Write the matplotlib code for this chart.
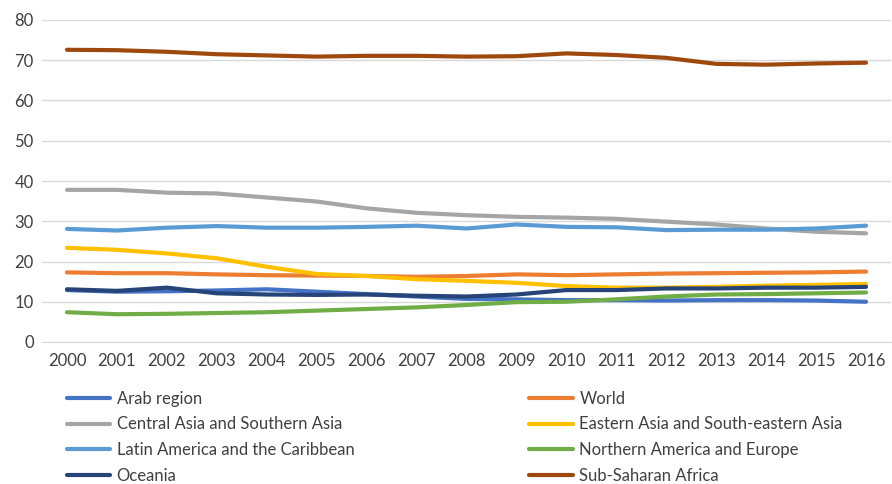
import matplotlib
matplotlib.use("Agg")
import matplotlib.pyplot as plt
import numpy as np

years = [str(y) for y in range(2000, 2017)]

arab = [12.9, 12.5, 12.6, 12.8, 13.1, 12.5, 11.9, 11.3, 10.7, 10.6, 10.4, 10.4, 10.3, 10.4, 10.4, 10.3, 10.0]
world = [17.3, 17.1, 17.1, 16.8, 16.6, 16.5, 16.4, 16.2, 16.4, 16.8, 16.6, 16.8, 17.0, 17.1, 17.2, 17.3, 17.5]
central_south_asia = [37.8, 37.8, 37.1, 36.9, 35.9, 34.9, 33.2, 32.1, 31.5, 31.1, 30.9, 30.6, 29.9, 29.2, 28.2, 27.4, 27.0]
east_se_asia = [23.4, 22.9, 22.0, 20.8, 18.7, 16.9, 16.4, 15.6, 15.2, 14.7, 13.9, 13.5, 13.5, 13.7, 14.0, 14.2, 14.4]
latin_america = [28.1, 27.7, 28.4, 28.8, 28.4, 28.4, 28.6, 28.9, 28.2, 29.2, 28.6, 28.5, 27.8, 27.9, 27.9, 28.2, 28.9]
north_america_europe = [7.4, 6.9, 7.0, 7.2, 7.4, 7.8, 8.2, 8.6, 9.2, 9.9, 10.0, 10.6, 11.3, 11.8, 11.9, 12.1, 12.3]
oceania = [13.1, 12.7, 13.5, 12.1, 11.8, 11.7, 11.8, 11.5, 11.3, 11.8, 12.9, 12.9, 13.3, 13.3, 13.5, 13.5, 13.7]
sub_saharan = [72.6, 72.5, 72.1, 71.5, 71.2, 70.9, 71.1, 71.1, 70.9, 71.0, 71.7, 71.3, 70.6, 69.1, 68.9, 69.2, 69.4]

series_names = ["Arab region", "World", "Central Asia and Southern Asia",
                "Eastern Asia and South-eastern Asia", "Latin America and the Caribbean",
                "Northern America and Europe", "Oceania", "Sub-Saharan Africa"]
series_values = [arab, world, central_south_asia, east_se_asia, latin_america,
                 north_america_europe, oceania, sub_saharan]
colors = ["#4472C4", "#ED7D31", "#A5A5A5", "#FFC000", "#5B9BD5", "#70AD47", "#264478", "#9E480E"]

plt.rcParams['font.family'] = ['Lato', 'DejaVu Sans']

fig = plt.figure(figsize=(8.92, 4.84), dpi=100)
ax = fig.add_axes([42/892, (484-342)/484, 849/892, (342-20)/484])

x = np.arange(len(years))
handles = []
for name, vals, c in zip(series_names, series_values, colors):
    h, = ax.plot(x, vals, color=c, lw=3.0, solid_capstyle='round', solid_joinstyle='round', label=name)
    handles.append(h)

ax.set_xlim(-0.5, len(years) - 0.5)
ax.set_ylim(0, 80)
ax.set_yticks(range(0, 81, 10))
ax.set_xticks(x)
ax.set_xticklabels(years)
ax.grid(axis='y', color='#D9D9D9', lw=1)
ax.set_axisbelow(True)
for s in ['top', 'right', 'left']:
    ax.spines[s].set_visible(False)
ax.spines['bottom'].set_color('#D9D9D9')
ax.tick_params(axis='both', length=0, labelsize=12, colors='#404040', pad=8)
ax.tick_params(axis='y', pad=6)

order = [0, 2, 4, 6, 1, 3, 5, 7]
fig.legend([handles[i] for i in order], [series_names[i] for i in order],
           ncol=2, loc='upper left', bbox_to_anchor=(60/892, 1 - 384/484),
           frameon=False, fontsize=12, handlelength=2.6, handletextpad=0.4,
           columnspacing=10.5, labelspacing=0.58, labelcolor='#404040', borderaxespad=0)

fig.savefig("out.png", dpi=100)
